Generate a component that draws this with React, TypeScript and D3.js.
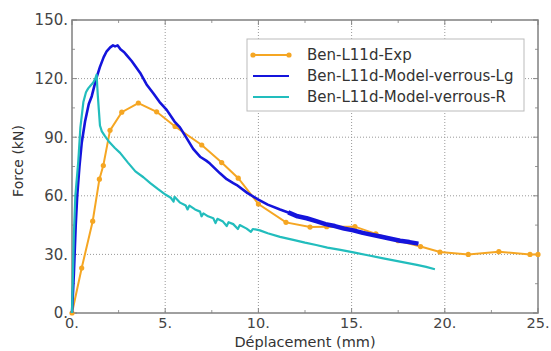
import React from "react";
import * as d3 from "d3";

const xTicks = [0, 5, 10, 15, 20, 25];
const yTicks = [0, 30, 60, 90, 120, 150];
const xMinor = [2.5, 7.5, 12.5, 17.5, 22.5];
const yMinor = [15, 45, 75, 105, 135];

const seriesNames = ["Ben-L11d-Exp", "Ben-L11d-Model-verrous-Lg", "Ben-L11d-Model-verrous-R"];
const seriesColors = ["#f5a623", "#1414dc", "#22bdbd"];

const expData: [number, number][] = [
  [0, 0], [0.52, 23], [1.11, 47], [1.47, 68.5], [1.68, 75.5], [2.04, 93.5], [2.67, 102.8],
  [3.56, 107.5], [4.54, 103], [5.53, 95.5], [6.96, 86], [8.03, 77], [8.92, 69], [10.0, 55.8],
  [11.48, 46.4], [12.77, 44], [13.66, 44.2], [15.18, 44.2], [16.3, 40.5], [17.5, 37],
  [18.7, 34], [19.74, 31.2], [21.26, 30], [22.9, 31.4], [24.57, 30], [25, 30],
];

const lgData: [number, number][] = [
  [0, 0], [0.1, 20], [0.2, 45], [0.28, 60], [0.4, 75], [0.52, 87], [0.7, 98], [0.9, 107],
  [1.06, 111], [1.3, 120], [1.5, 126], [1.7, 131], [1.86, 134], [2.05, 136], [2.2, 137],
  [2.31, 136.5], [2.45, 137], [2.6, 135], [2.8, 133.5], [2.93, 132], [3.2, 129], [3.65, 123],
  [4.0, 117], [4.36, 112.5], [4.7, 108], [5.08, 104], [5.5, 98], [5.79, 95], [6.15, 89.5],
  [6.5, 84], [6.87, 80], [7.2, 78], [7.4, 76.5], [7.94, 71.5], [8.3, 68.5], [8.65, 66.5],
  [8.84, 65.5], [9.4, 61.5], [10, 58], [10.5, 55.5], [11.16, 53], [11.6, 51.5], [12.1, 49.5],
  [12.59, 48.5], [13.1, 47], [13.6, 45.5], [14.1, 44.5], [14.6, 43.2], [15.09, 42.3],
  [15.6, 41], [16.1, 40], [16.6, 39], [17.1, 38], [17.6, 37], [18.1, 36.3], [18.58, 35.5],
];

const rData: [number, number][] = [
  [0, 0], [0.05, 20], [0.1, 40], [0.18, 60], [0.34, 78], [0.45, 95], [0.61, 108], [0.75, 113],
  [0.87, 115], [1.0, 116.5], [1.14, 118], [1.25, 120], [1.32, 122], [1.38, 112], [1.44, 104],
  [1.5, 96], [1.6, 93], [1.77, 90.5], [2.0, 87.5], [2.3, 84.5], [2.58, 82], [3.0, 77],
  [3.4, 72.5], [3.83, 69.5], [4.2, 66.5], [4.6, 63.5], [5.03, 60.5], [5.3, 59], [5.45, 57],
  [5.5, 59.5], [5.8, 56.5], [6.1, 55], [6.2, 53], [6.3, 55], [6.6, 53], [6.87, 51.9],
  [6.95, 49.5], [7.05, 51], [7.3, 49.5], [7.58, 48.5], [7.7, 46], [7.8, 48.2], [8.1, 46.8],
  [8.3, 44.5], [8.4, 46.5], [8.65, 45.5], [8.9, 43], [9.0, 45], [9.37, 43.2], [9.6, 41.5],
  [9.7, 43], [10.08, 42.3], [10.5, 40.8], [11.16, 39], [11.87, 37.4], [12.5, 36], [13.1, 34.8],
  [13.7, 33.5], [14.4, 32.3], [15.1, 31], [15.8, 29.7], [16.7, 28], [17.6, 26.3], [18.5, 24.6],
  [19.0, 23.6], [19.47, 22.4],
];

const L = 72, R = 538, T = 20, B = 313;
const FONT = "'DejaVu Sans', Verdana, sans-serif";

export default function App() {
  const x = d3.scaleLinear().domain([0, 25]).range([L, R]);
  const y = d3.scaleLinear().domain([0, 150]).range([B, T]);
  const line = d3.line<[number, number]>().x((d) => x(d[0])).y((d) => y(d[1]));
  const lgTail = lgData.filter((d) => d[0] >= 11.5);

  return (
    <svg width={551} height={351} style={{ position: "absolute", left: 0, top: 0, background: "#fff" }}>
      {xTicks.slice(1, -1).map((t) => (
        <line key={"gx" + t} x1={x(t)} x2={x(t)} y1={T} y2={B} stroke="#999" strokeWidth={1} strokeDasharray="1,2" />
      ))}
      {yTicks.slice(1, -1).map((t) => (
        <line key={"gy" + t} x1={L} x2={R} y1={y(t)} y2={y(t)} stroke="#999" strokeWidth={1} strokeDasharray="1,2" />
      ))}
      {xTicks.map((t) => (
        <g key={"tx" + t}>
          <line x1={x(t)} x2={x(t)} y1={B} y2={B - 5} stroke="#888" />
          <line x1={x(t)} x2={x(t)} y1={T} y2={T + 5} stroke="#888" />
        </g>
      ))}
      {xMinor.map((t) => (
        <g key={"mx" + t}>
          <line x1={x(t)} x2={x(t)} y1={B} y2={B - 3} stroke="#999" />
          <line x1={x(t)} x2={x(t)} y1={T} y2={T + 3} stroke="#999" />
        </g>
      ))}
      {yTicks.map((t) => (
        <g key={"ty" + t}>
          <line x1={L} x2={L + 5} y1={y(t)} y2={y(t)} stroke="#888" />
          <line x1={R} x2={R - 5} y1={y(t)} y2={y(t)} stroke="#888" />
        </g>
      ))}
      {yMinor.map((t) => (
        <g key={"my" + t}>
          <line x1={L} x2={L + 3} y1={y(t)} y2={y(t)} stroke="#999" />
          <line x1={R} x2={R - 3} y1={y(t)} y2={y(t)} stroke="#999" />
        </g>
      ))}
      <rect x={L} y={T} width={R - L} height={B - T} fill="none" stroke="#808080" strokeWidth={1.5} />

      <path d={line(expData) || ""} fill="none" stroke={seriesColors[0]} strokeWidth={2} />
      {expData.map((d, i) => (
        <circle key={"e" + i} cx={x(d[0])} cy={y(d[1])} r={2.6} fill={seriesColors[0]} />
      ))}
      <path d={line(lgData) || ""} fill="none" stroke={seriesColors[1]} strokeWidth={2.6} strokeLinejoin="round" />
      <path d={line(lgTail) || ""} fill="none" stroke={seriesColors[1]} strokeWidth={4.5} strokeLinejoin="round" />
      <path d={line(rData) || ""} fill="none" stroke={seriesColors[2]} strokeWidth={2.2} strokeLinejoin="round" />

      {xTicks.map((t) => (
        <text key={"lx" + t} x={x(t)} y={328} textAnchor="middle" fontFamily={FONT} fontSize={14.5} fill="#444">
          {t + "."}
        </text>
      ))}
      {yTicks.map((t) => (
        <text key={"ly" + t} x={68} y={y(t)} dy="0.36em" textAnchor="end" fontFamily={FONT} fontSize={15} fill="#444">
          {t + "."}
        </text>
      ))}
      <text x={305} y={347} textAnchor="middle" fontFamily={FONT} fontSize={14.5} fill="#333">
        Déplacement (mm)
      </text>
      <text transform={`translate(23,161) rotate(-90)`} textAnchor="middle" fontFamily={FONT} fontSize={14} fill="#333">
        Force (kN)
      </text>

      <rect x={247} y={39} width={277} height={72} fill="#fff" stroke="#bbb" strokeWidth={1} />
      {seriesNames.map((n, i) => {
        const ly = 55 + i * 21;
        return (
          <g key={n}>
            <line x1={253} x2={289} y1={ly} y2={ly} stroke={seriesColors[i]} strokeWidth={2} />
            {i === 0 && (
              <>
                <circle cx={253} cy={ly} r={2.6} fill={seriesColors[0]} />
                <circle cx={289} cy={ly} r={2.6} fill={seriesColors[0]} />
              </>
            )}
            <text x={307} y={ly} dy="0.36em" fontFamily={FONT} fontSize={15} fill="#333">
              {n}
            </text>
          </g>
        );
      })}
    </svg>
  );
}
